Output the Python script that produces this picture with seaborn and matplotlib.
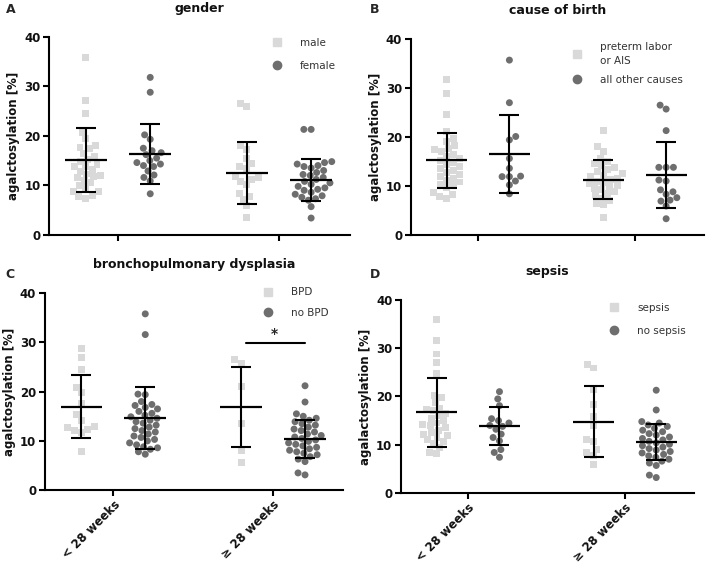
import matplotlib
matplotlib.use("Agg")
import matplotlib.pyplot as plt
from matplotlib.lines import Line2D
import pandas as pd
import seaborn as sns

sns.set_theme(style="ticks")
plt.rcParams["font.family"] = ["DejaVu Sans"]

AGE_GROUPS = ["< 28 weeks", "≥ 28 weeks"]
LIGHT = "#d9d9d9"
DARK = "#6e6e6e"
YLIM = (0, 40)
YTICKS = [0, 10, 20, 30, 40]

# ── A: gender ────────────────────────────────────────────────────────────────
gender_labels = ["male", "female"]
male_lt28 = [35.8, 27.1, 24.6, 20.7, 19.5, 18.0, 17.7, 17.4, 16.5, 15.8, 15.3,
             14.8, 14.3, 13.8, 13.8, 13.2, 12.8, 12.3, 12.0, 11.8, 11.5, 11.0,
             10.5, 10.0, 9.5, 8.7, 8.7, 8.0, 7.7, 7.4]
female_lt28 = [31.8, 28.8, 20.2, 19.3, 17.5, 17.0, 16.6, 16.2, 15.5, 15.0, 14.6,
               14.3, 14.0, 13.8, 12.9, 12.1, 11.6, 10.9, 8.3]
male_ge28 = [26.6, 25.9, 18.0, 17.2, 15.5, 14.5, 13.8, 13.5, 11.8, 11.5, 11.2,
             10.8, 10.1, 8.3, 7.7, 7.1, 5.9, 3.6]
female_ge28 = [21.3, 21.3, 14.8, 14.6, 14.3, 14.0, 13.8, 13.5, 13.0, 12.6, 12.2,
               12.0, 11.6, 11.2, 10.8, 10.5, 10.2, 9.8, 9.5, 9.2, 9.0, 8.6, 8.2,
               7.9, 7.6, 7.3, 7.0, 5.7, 3.4]
gender_mean = [[15.1, 12.5], [16.3, 11.1]]
gender_sd = [[6.45, 6.3], [6.0, 4.2]]

# ── B: cause of birth ────────────────────────────────────────────────────────
cause_labels = ["preterm labor\nor AIS", "all other causes"]
preterm_lt28 = [31.7, 28.8, 24.5, 21.2, 19.6, 19.0, 18.2, 17.6, 17.4, 17.0, 16.5,
                16.0, 15.6, 15.2, 14.8, 14.4, 14.0, 13.6, 13.2, 12.8, 12.4, 12.0,
                11.6, 11.2, 10.8, 10.4, 10.0, 9.6, 8.7, 8.2, 7.9, 7.4]
other_lt28 = [35.7, 27.0, 20.1, 19.4, 15.6, 13.6, 12.0, 11.9, 11.9, 11.0, 10.2, 8.4]
preterm_ge28 = [21.4, 18.0, 17.1, 15.6, 15.0, 14.6, 14.2, 13.8, 13.4, 13.0, 12.6,
                12.2, 11.9, 11.6, 11.3, 11.0, 10.7, 10.4, 10.1, 9.8, 9.5, 9.2,
                8.8, 8.4, 8.0, 7.5, 7.0, 6.5, 6.1, 3.5]
other_ge28 = [26.5, 25.7, 21.3, 13.8, 13.8, 13.8, 11.2, 11.0, 9.2, 8.8, 8.3, 7.6,
              7.1, 6.9, 5.9, 3.3]
cause_mean = [[15.2, 11.3], [16.5, 12.2]]
cause_sd = [[5.6, 4.0], [8.0, 6.8]]

# ── C: bronchopulmonary dysplasia ────────────────────────────────────────────
bpd_labels = ["BPD", "no BPD"]
bpd_lt28 = [28.7, 27.0, 24.5, 20.9, 19.9, 17.6, 15.3, 14.2, 13.0, 12.8, 12.4,
            12.2, 11.8, 7.8]
nobpd_lt28 = [35.8, 31.6, 19.5, 19.4, 18.0, 17.4, 17.2, 16.8, 16.5, 16.0, 15.6,
              15.2, 14.9, 14.6, 14.2, 13.9, 13.6, 13.2, 12.8, 12.5, 12.1, 11.8,
              11.4, 11.0, 10.7, 10.3, 10.0, 9.6, 9.2, 8.8, 8.6, 8.3, 7.8, 7.3]
bpd_ge28 = [26.5, 25.8, 21.1, 13.6, 8.1, 5.7]
nobpd_ge28 = [21.2, 17.9, 15.5, 15.0, 14.6, 14.2, 13.9, 13.5, 13.2, 12.8, 12.4,
              12.1, 11.8, 11.4, 11.1, 10.8, 10.5, 10.2, 9.9, 9.6, 9.3, 9.0, 8.7,
              8.4, 8.1, 7.8, 7.5, 7.2, 6.8, 6.3, 5.8, 3.5, 3.1]
bpd_mean = [[16.9, 16.9], [14.7, 10.4]]
bpd_sd = [[6.4, 8.2], [6.3, 3.8]]
bpd_sig_level = 29.8

# ── D: sepsis ────────────────────────────────────────────────────────────────
sepsis_labels = ["sepsis", "no sepsis"]
sepsis_lt28 = [35.9, 31.7, 28.8, 27.1, 24.7, 20.2, 19.7, 18.8, 17.6, 17.4, 17.0,
               16.5, 16.0, 15.5, 15.0, 14.5, 14.2, 13.9, 13.5, 13.0, 12.5, 12.2,
               11.9, 11.5, 11.0, 10.6, 10.2, 9.4, 8.3, 8.1]
nosepsis_lt28 = [21.0, 19.5, 18.1, 15.4, 15.0, 14.5, 14.0, 13.8, 13.2, 12.2, 11.5,
                 10.8, 9.0, 8.4, 7.4]
sepsis_ge28 = [26.7, 25.9, 21.4, 18.3, 15.9, 13.9, 11.0, 10.6, 9.0, 8.3, 7.7, 6.0]
nosepsis_ge28 = [21.3, 17.2, 14.8, 14.5, 14.1, 13.8, 13.4, 13.0, 12.7, 12.3, 12.0,
                 11.6, 11.3, 11.0, 10.7, 10.4, 10.1, 9.8, 9.5, 9.2, 8.9, 8.6, 8.3,
                 8.0, 7.7, 7.4, 7.0, 6.6, 6.2, 5.7, 3.7, 3.2]
sepsis_mean = [[16.7, 14.8], [13.9, 10.6]]
sepsis_sd = [[7.2, 7.3], [3.9, 3.8]]

DODGE = 0.2


def _draw_panel(ax, labels, groups, means, sds, ylabel, show_xlabels,
                legend_anchor, legend_spacing=1.0):
    rows = []
    for label, per_age in zip(labels, groups):
        for age, values in zip(AGE_GROUPS, per_age):
            rows += [(age, label, v) for v in values]
    df = pd.DataFrame(rows, columns=["age", "group", "value"])
    palette = {labels[0]: LIGHT, labels[1]: DARK}

    for label, marker in zip(labels, ["s", "o"]):
        sns.swarmplot(
            data=df[df["group"] == label], x="age", y="value", hue="group",
            order=AGE_GROUPS, hue_order=labels, dodge=True, palette=palette,
            marker=marker, size=5, linewidth=0, legend=False, ax=ax,
        )

    # mean ± SD
    for gi, offset in enumerate([-DODGE, DODGE]):
        xs = [ci + offset for ci in range(len(AGE_GROUPS))]
        ax.hlines(means[gi], [x - 0.13 for x in xs], [x + 0.13 for x in xs],
                  color="black", linewidth=1.6, zorder=4)
        ax.errorbar(xs, means[gi], yerr=sds[gi], fmt="none", ecolor="black",
                    elinewidth=1.5, capsize=7.5, capthick=1.5, zorder=4)

    ax.set_ylim(*YLIM)
    ax.set_yticks(YTICKS)
    ax.set_xlim(-0.43, 1.44)
    ax.set_ylabel(ylabel, fontsize=8.5, fontweight="bold", labelpad=3, color="#111111")
    ax.set_xlabel("")
    sns.despine(ax=ax)
    for side in ("left", "bottom"):
        ax.spines[side].set_linewidth(1.5)
        ax.spines[side].set_color("black")
    ax.tick_params(axis="both", width=1.5, length=4, color="black",
                   labelsize=8.5, pad=2, labelcolor="#111111")
    for t in ax.get_yticklabels():
        t.set_fontweight("bold")
    ax.set_xticks(range(len(AGE_GROUPS)))
    if show_xlabels:
        ax.set_xticklabels(AGE_GROUPS, rotation=45, ha="right",
                           rotation_mode="anchor", fontweight="bold")
    else:
        ax.set_xticklabels([])

    handles = [
        Line2D([], [], marker="s", color=LIGHT, linestyle="none", markersize=6),
        Line2D([], [], marker="o", color=DARK, linestyle="none", markersize=6),
    ]
    leg = ax.legend(handles, labels, loc="upper left", bbox_to_anchor=legend_anchor,
                    frameon=False, fontsize=7.5, handlelength=1.0,
                    handletextpad=1.7, labelspacing=legend_spacing, borderpad=0,
                    borderaxespad=0)
    for t in leg.get_texts():
        t.set_color("#333333")
        t.set_linespacing(1.45)


fig = plt.figure(figsize=(7.08, 5.66), dpi=100)

ax_a = fig.add_axes([0.069, 0.585, 0.425, 0.350])
ax_b = fig.add_axes([0.580, 0.585, 0.414, 0.346])
ax_c = fig.add_axes([0.063, 0.134, 0.422, 0.348])
ax_d = fig.add_axes([0.566, 0.129, 0.414, 0.341])

_draw_panel(ax_a, gender_labels, [[male_lt28, male_ge28], [female_lt28, female_ge28]],
            gender_mean, gender_sd, "agalctosylation [%]", False, (0.74, 0.995), 1.25)
_draw_panel(ax_b, cause_labels, [[preterm_lt28, preterm_ge28], [other_lt28, other_ge28]],
            cause_mean, cause_sd, "agalctosylation [%]", False, (0.55, 0.985), 0.9)
_draw_panel(ax_c, bpd_labels, [[bpd_lt28, bpd_ge28], [nobpd_lt28, nobpd_ge28]],
            bpd_mean, bpd_sd, "agalctosylation [%]", True, (0.73, 1.03), 1.0)
_draw_panel(ax_d, sepsis_labels, [[sepsis_lt28, sepsis_ge28], [nosepsis_lt28, nosepsis_ge28]],
            sepsis_mean, sepsis_sd, "agalactosylation [%]", True, (0.71, 0.985), 1.25)

# significance bar between BPD groups at >= 28 weeks
ax_c.plot([1 - 0.17, 1 + 0.2], [bpd_sig_level, bpd_sig_level], color="black", linewidth=1.5)
ax_c.text(1.01, bpd_sig_level + 0.4, "*", ha="center", va="bottom",
          fontsize=10, fontweight="bold")

for ax, title in [(ax_a, "gender"), (ax_b, "cause of birth"),
                  (ax_c, "bronchopulmonary dysplasia"), (ax_d, "sepsis")]:
    ax.set_title(title, fontsize=9, fontweight="bold", pad=18, color="#111111")

for x, y, letter in [(0.008, 0.994, "A"), (0.522, 0.994, "B"),
                     (0.008, 0.527, "C"), (0.522, 0.527, "D")]:
    fig.text(x, y, letter, fontsize=9, fontweight="bold", va="top", ha="left")

fig.savefig("out.png", dpi=100)
